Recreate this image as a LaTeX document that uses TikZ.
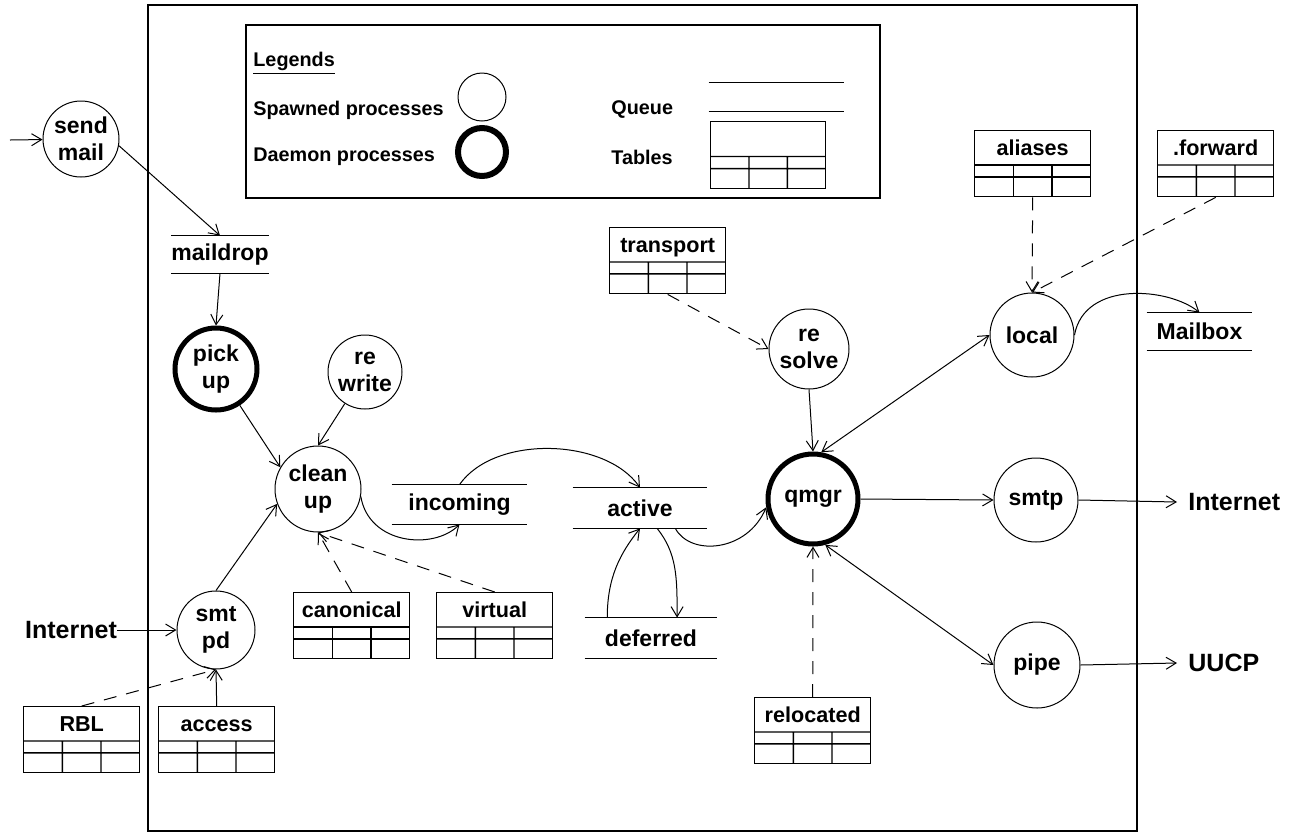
\documentclass[tikz,border=0pt]{standalone}
\usepackage{fontspec}
\setmainfont{Liberation Sans}
\usetikzlibrary{arrows.meta,calc}

\tikzset{
  >={Straight Barb[length=5pt,width=6pt]},
  lbl/.style={font=\bfseries\fontsize{11.5}{13.5}\selectfont},
  proc/.style={lbl, circle, draw, line width=0.5pt, inner sep=0pt, align=center},
  daemon/.style={proc, line width=2.5pt},
  queue/.style={lbl, inner sep=0pt, minimum height=19.5pt},
  tbl/.style={draw, line width=0.7pt, anchor=north west, inner sep=0pt,
    minimum width=58pt, text height=12.4pt, text depth=20.6pt,
    font=\bfseries\fontsize{10.8}{12}\selectfont,
    path picture={
      \coordinate (tl) at (path picture bounding box.north west);
      \coordinate (tr) at (path picture bounding box.north east);
      \coordinate (bl) at (path picture bounding box.south west);
      \coordinate (br) at (path picture bounding box.south east);
      \draw[line width=0.7pt] ($(tl)!.52!(bl)$) -- ($(tr)!.52!(br)$)
        ($(tl)!.70!(bl)$) -- ($(tr)!.70!(br)$)
        ($($(tl)!.52!(bl)$)!1/3!($(tr)!.52!(br)$)$) -- ($(bl)!1/3!(br)$)
        ($($(tl)!.52!(bl)$)!2/3!($(tr)!.52!(br)$)$) -- ($(bl)!2/3!(br)$);
    }},
  legtext/.style={font=\bfseries\fontsize{9.9}{12}\selectfont, inner sep=0pt, anchor=west},
  outside/.style={font=\bfseries\fontsize{12.5}{14}\selectfont, inner sep=0pt},
  flow/.style={->, line width=0.5pt},
  lookup/.style={->, line width=0.5pt, dash pattern=on 6.5pt off 5pt},
}

\begin{document}
\begin{tikzpicture}[x=0.5pt, y=-0.5pt]
\useasboundingbox (0,0) rectangle (1298,832);

% frame and legend box
\draw[line width=0.8pt] (148,5) rectangle (1137,831);
\draw[line width=0.8pt] (246,25) rectangle (880,198);

% legend
\node[legtext] (legtitle) at (253,63) {\underline{Legends}};
\node[legtext] (legspawn) at (253,110) {Spawned processes};
\node[proc, minimum size=24pt] (legcirc) at (482,97) {};
\node[legtext] (legdaemon) at (253,157) {Daemon processes};
\node[daemon, minimum size=24pt, line width=3pt] (legthick) at (482,152) {};
\node[legtext] (legqueue) at (611,110) {Queue};
\node[queue, minimum width=67.5pt, minimum height=14pt] (legq) at (776.5,97) {};
\node[legtext] (legtables) at (611,157) {Tables};
\node[tbl, minimum width=57.5pt, text depth=21.1pt] (legtbl) at (710,121) {};

% processes
\node[proc, minimum size=38pt] (sendmail) at (81,139) {send\\mail};
\node[daemon, minimum size=41pt] (pickup) at (216,369) {pick\\up};
\node[proc, minimum size=37pt] (rewrite) at (365,372) {re\\write};
\node[proc, minimum size=43pt] (cleanup) at (318,489) {clean\\up};
\node[proc, minimum size=39pt] (smtpd) at (216,630) {smt\\pd};
\node[proc, minimum size=40pt] (resolve) at (809,349) {re\\solve};
\node[daemon, minimum size=45pt] (qmgr) at (813,499) {qmgr};
\node[proc, minimum size=42pt] (local) at (1032,335) {local};
\node[proc, minimum size=42pt] (smtp) at (1036,500) {smtp};
\node[proc, minimum size=43pt] (pipe) at (1037,665) {pipe};

% queues
\node[queue, minimum width=43pt, minimum height=18.5pt] (maildrop) at (220,254.5) {maildrop};
\node[queue, minimum width=67.5pt] (incoming) at (459.5,504.5) {incoming};
\node[queue, minimum width=67pt, minimum height=20pt] (active) at (640,508) {active};
\node[queue, minimum width=66pt, minimum height=20pt] (deferred) at (651,638) {deferred};
\node[queue, minimum width=52.5pt, minimum height=18.5pt] (mailbox) at (1199.5,331.5) {Mailbox};
\foreach \q in {maildrop,incoming,active,deferred,mailbox,legq}
  \draw[line width=0.7pt] (\q.north west) -- (\q.north east) (\q.south west) -- (\q.south east);

% tables
\node[tbl] (transport) at (609,227) {transport};
\node[tbl] (aliases) at (974,130) {aliases};
\node[tbl] (forward) at (1157,130) {.forward};
\node[tbl] (canonical) at (293,592) {canonical};
\node[tbl] (virtual) at (436,592) {virtual};
\node[tbl] (rbl) at (23,706) {RBL};
\node[tbl] (access) at (158,706) {access};
\node[tbl] (relocated) at (754,697) {relocated};

% outside world
\coordinate (mailin) at (10,140);
\node[outside] (inetin) at (71,630) {Internet};
\node[outside, anchor=west, inner xsep=5.5pt] (inetout) at (1177,502) {Internet};
\node[outside, anchor=west, inner xsep=5.5pt] (uucp) at (1177,663) {UUCP};

% mail flow
\draw[flow] (mailin) -- (sendmail);
\draw[flow] (sendmail.-10) -- (maildrop.north);
\draw[flow] (maildrop.south) -- (pickup.north);
\draw[flow] (pickup) -- (cleanup.150);
\draw[flow] (rewrite) -- (cleanup.north);
\draw[flow] (smtpd.north) -- (cleanup.200);
\draw[flow] (inetin) -- (smtpd);
\draw[flow] (access.north) -- (smtpd.south);
\draw[flow] (cleanup.-10) .. controls +(8,48) and +(-26,26) .. (incoming.south);
\draw[flow] (incoming.north) .. controls +(35,-50) and +(-35,-50) .. (active.north);
\draw[flow] (active.-30) .. controls +(15,28) and +(-19,45) .. (qmgr.190);
\draw[flow] (active.-50) .. controls +(20,25) and +(0,-40) .. (deferred.38);
\draw[flow] (deferred.155) .. controls +(0,-40) and +(-20,25) .. (active.south);
\draw[flow] (resolve.south) -- (qmgr.north);
\draw[flow, <->] (qmgr.80) -- (local.west);
\draw[flow] (qmgr.east) -- (smtp.west);
\draw[flow, <->] (qmgr.-75) -- (pipe.west);
\draw[flow] (local.east) .. controls +(10,-55) and +(-30,-25) .. (mailbox.north);
\draw[flow] (smtp.east) -- (inetout.west);
\draw[flow] (pipe.east) -- (uucp.west);

% table lookups
\draw[lookup] (rbl.north) -- (smtpd.south);
\draw[lookup] (canonical.north) -- (cleanup.south);
\draw[lookup] (virtual.north) -- (cleanup.south);
\draw[lookup] (transport.south) -- (resolve.west);
\draw[lookup] (relocated.north) -- (qmgr.south);
\draw[lookup] (aliases.south) -- (local.north);
\draw[lookup] (forward.south) -- (local.north);

\end{tikzpicture}
\end{document}
